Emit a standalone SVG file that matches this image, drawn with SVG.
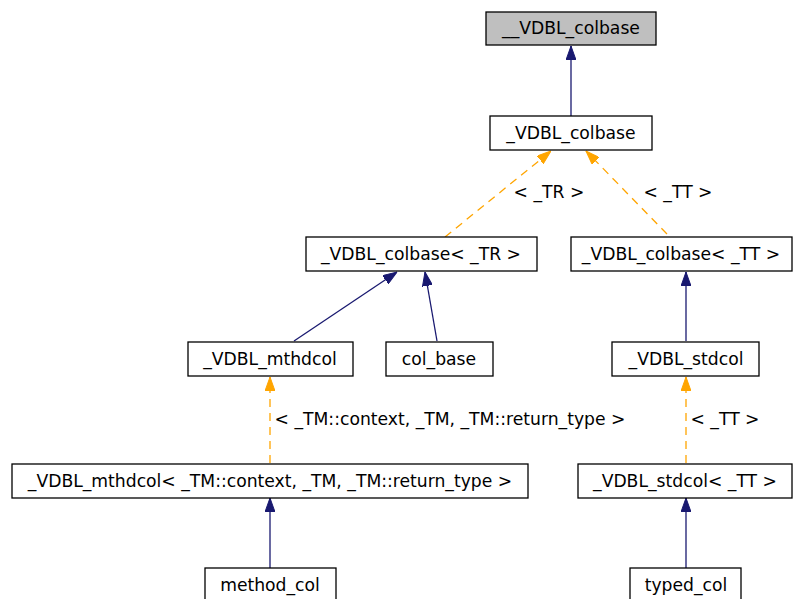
<svg xmlns="http://www.w3.org/2000/svg" width="793" height="599" viewBox="0 0 793 599">
<style>
  .box { fill: #ffffff; stroke: #000000; stroke-width: 1.3; }
  .root { fill: #bfbfbf; }
  text { font-family: "DejaVu Sans", sans-serif; font-size: 17.2px; fill: #000000; }
  .lbl { text-anchor: middle; }
  .inh { stroke: #191970; stroke-width: 1.3; fill: none; }
  .tpl { stroke: #ffa500; stroke-width: 1.3; fill: none; stroke-dasharray: 8 6; }
  .headN { fill: #191970; stroke: #191970; }
  .headO { fill: #ffa500; stroke: #ffa500; }
</style>
<defs>
  <marker id="arrN" viewBox="0 0 14 10" refX="14" refY="5" markerWidth="14" markerHeight="10" markerUnits="userSpaceOnUse" orient="auto">
    <path d="M0,0 L14,5 L0,10 Z" class="headN"/>
  </marker>
  <marker id="arrO" viewBox="0 0 14 10" refX="14" refY="5" markerWidth="14" markerHeight="10" markerUnits="userSpaceOnUse" orient="auto">
    <path d="M0,0 L14,5 L0,10 Z" class="headO"/>
  </marker>
</defs>

<g id="connectors">
  <line class="inh" x1="571" y1="116" x2="571" y2="46" marker-end="url(#arrN)"/>
  <line class="tpl" x1="445" y1="237" x2="551" y2="151" marker-end="url(#arrO)"/>
  <line class="tpl" x1="667" y1="234" x2="586" y2="151" marker-end="url(#arrO)"/>
  <line class="inh" x1="294" y1="341" x2="397" y2="272" marker-end="url(#arrN)"/>
  <line class="inh" x1="437" y1="341" x2="425" y2="272" marker-end="url(#arrN)"/>
  <line class="inh" x1="686" y1="341" x2="686" y2="272" marker-end="url(#arrN)"/>
  <line class="tpl" x1="270" y1="463" x2="270" y2="377" marker-end="url(#arrO)"/>
  <line class="tpl" x1="686" y1="463" x2="686" y2="377" marker-end="url(#arrO)"/>
  <line class="inh" x1="270" y1="568" x2="270" y2="498" marker-end="url(#arrN)"/>
  <line class="inh" x1="686" y1="568" x2="686" y2="498" marker-end="url(#arrN)"/>
  <text x="549" y="198" class="lbl">&lt; _TR &gt;</text>
  <text x="678" y="198" class="lbl">&lt; _TT &gt;</text>
  <text x="450" y="425" class="lbl">&lt; _TM::context, _TM, _TM::return_type &gt;</text>
  <text x="725" y="425" class="lbl">&lt; _TT &gt;</text>
</g>

<g id="node-root">
  <rect class="box root" x="486" y="12" width="170" height="33"/>
  <text x="571" y="34" class="lbl">__VDBL_colbase</text>
</g>
<g id="node-colbase">
  <rect class="box" x="490" y="116" width="162" height="34"/>
  <text x="571" y="139" class="lbl">_VDBL_colbase</text>
</g>
<g id="node-colbase-TR">
  <rect class="box" x="306" y="237" width="231" height="34"/>
  <text x="421" y="260" class="lbl">_VDBL_colbase&lt; _TR &gt;</text>
</g>
<g id="node-colbase-TT">
  <rect class="box" x="571" y="237" width="221" height="34"/>
  <text x="681" y="260" class="lbl">_VDBL_colbase&lt; _TT &gt;</text>
</g>
<g id="node-mthdcol">
  <rect class="box" x="188" y="342" width="165" height="34"/>
  <text x="270" y="365" class="lbl">_VDBL_mthdcol</text>
</g>
<g id="node-col_base">
  <rect class="box" x="386" y="342" width="107" height="34"/>
  <text x="439" y="365" class="lbl">col_base</text>
</g>
<g id="node-stdcol">
  <rect class="box" x="612" y="342" width="147" height="34"/>
  <text x="686" y="365" class="lbl">_VDBL_stdcol</text>
</g>
<g id="node-mthdcol-tpl">
  <rect class="box" x="12" y="464" width="516" height="34"/>
  <text x="270" y="487" class="lbl">_VDBL_mthdcol&lt; _TM::context, _TM, _TM::return_type &gt;</text>
</g>
<g id="node-stdcol-TT">
  <rect class="box" x="578" y="464" width="214" height="34"/>
  <text x="685" y="487" class="lbl">_VDBL_stdcol&lt; _TT &gt;</text>
</g>
<g id="node-method_col">
  <rect class="box" x="205" y="568" width="131" height="34"/>
  <text x="270" y="591" class="lbl">method_col</text>
</g>
<g id="node-typed_col">
  <rect class="box" x="630" y="568" width="111" height="34"/>
  <text x="686" y="591" class="lbl">typed_col</text>
</g>
</svg>
